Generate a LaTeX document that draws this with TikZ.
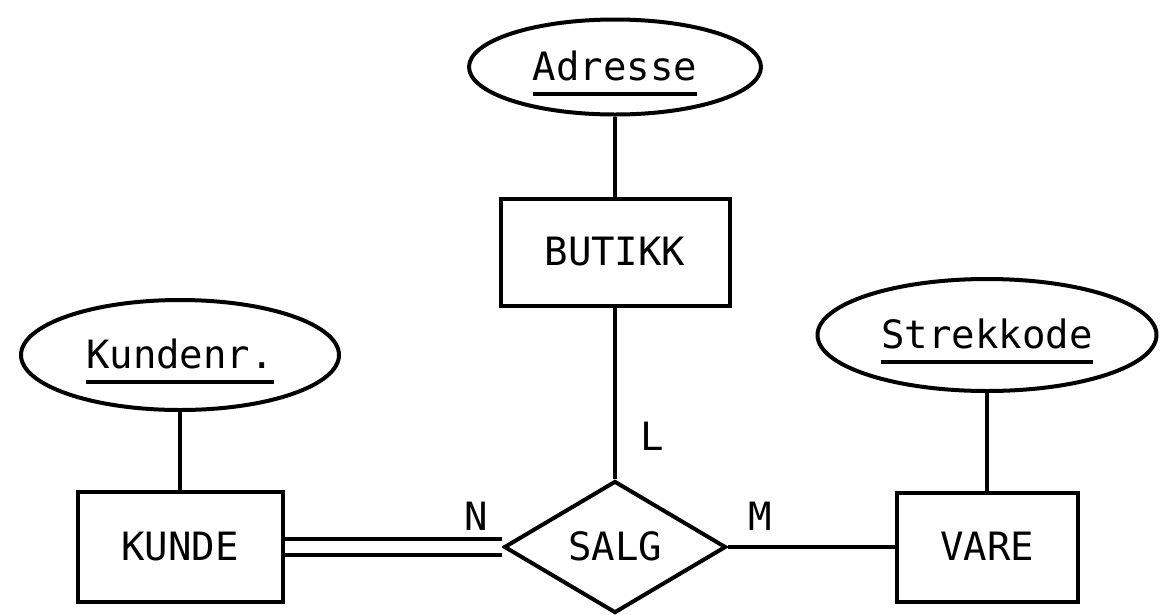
\documentclass[tikz,border=0pt]{standalone}
\usepackage{fontspec}
\setmonofont{DejaVu Sans Mono}
\usetikzlibrary{shapes.geometric}
\newcommand\keyattr[1]{\setbox0\hbox{#1}\rlap{\smash{\raisebox{-16pt}{\rule{\wd0}{4.5pt}}}}\box0}
\tikzset{
  base/.style={inner sep=0pt, text height=26pt, text depth=0pt},
  entity/.style={base, draw, rectangle},
  attr/.style={base, draw, ellipse},
  rel/.style={base, draw, diamond},
  card/.style={base},
  conn/.style={draw},
}
\begin{document}
\begin{tikzpicture}[x=1pt, y=-1pt, line width=4pt,
  font=\ttfamily\fontsize{39}{39}\selectfont]
\useasboundingbox[fill=white] (0,0) rectangle (1176,614);
% entities
\node[entity, minimum width=229pt, minimum height=107pt] (butikk) at (615,252.5) {BUTIKK};
\node[entity, minimum width=205pt, minimum height=110pt] (kunde) at (180,547) {KUNDE};
\node[entity, minimum width=181pt, minimum height=109pt] (vare) at (987,547) {VARE};
% attributes
\node[attr, minimum width=292pt, minimum height=95pt] (adresse) at (615,67) {\keyattr{Adresse}};
\node[attr, minimum width=318pt, minimum height=110pt] (kundenr) at (180,355) {\keyattr{Kundenr.}};
\node[attr, minimum width=339pt, minimum height=112pt] (strekkode) at (987,335) {\keyattr{Strekkode}};
% relationship
\node[rel, minimum width=222pt, minimum height=132pt] (salg) at (615,547) {SALG};
% cardinalities
\node[card] (lblL) at (652,437) {L};
\node[card] (lblN) at (476,517) {N};
\node[card] (lblM) at (760,517) {M};
% connectors
\draw[conn] (adresse.south) -- (butikk.north);
\draw[conn] (butikk.south) -- (salg.north);
\draw[conn] (kundenr.south) -- (kunde.north);
\draw[conn] (strekkode.south) -- (vare.north);
\draw[conn] (salg.east) -- (vare.west);
\draw[conn, double, double distance=12pt] (kunde.east) -- (salg.west);
\end{tikzpicture}
\end{document}
